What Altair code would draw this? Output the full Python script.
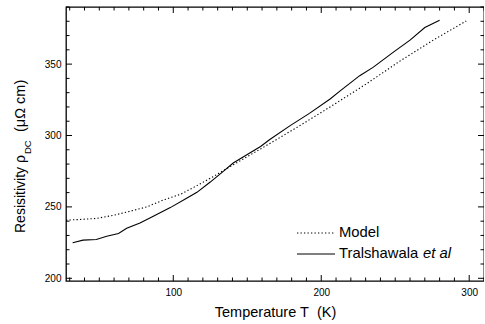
import altair as alt
import pandas as pd

# ---- data ----
model_T = [27.5, 37, 48, 60, 71, 82, 93, 105, 116, 127, 136, 147, 159, 170, 186, 208, 231, 253, 276, 298]
model_rho = [240.7, 241.2, 241.9, 244.2, 247.0, 250.0, 254.7, 258.9, 264.9, 271.2, 276.8, 283.4, 290.6, 297.3,
             307.2, 321.3, 336.5, 352.0, 367.0, 380.2]

tral_T = [32, 39, 48, 55, 63, 68.5, 77.5, 86.5, 98, 109, 116, 125, 134, 140.5, 150, 159, 165, 179, 192, 206,
          213, 226, 235, 249, 260, 270, 280]
tral_rho = [224.9, 226.7, 227.2, 229.5, 231.4, 235.1, 238.8, 243.5, 249.5, 256.0, 260.2, 267.4, 275.1, 280.7,
            286.7, 292.3, 297.0, 306.9, 315.5, 325.6, 331.4, 341.9, 347.7, 358.6, 366.8, 375.6, 380.7]

x_major = [100, 200, 300]
x_minor = [30, 40, 50, 60, 70, 80, 90, 110, 120, 130, 140, 150, 160, 170, 180, 190,
           210, 220, 230, 240, 250, 260, 270, 280, 290, 310]
y_major = [200, 250, 300, 350]
y_minor = [210, 220, 230, 240, 260, 270, 280, 290, 310, 320, 330, 340, 360, 370, 380, 390]

legend_labels = ["Model", "Tralshawala", "et al"]

W, H = 418, 274
FONT = "Liberation Sans"

xs = alt.Scale(domain=[27.5, 310], nice=False, zero=False)
ys = alt.Scale(domain=[198.1, 390], nice=False, zero=False)

df_model = pd.DataFrame({"T": model_T, "rho": model_rho})
df_tral = pd.DataFrame({"T": tral_T, "rho": tral_rho})

x_axis = alt.Axis(values=x_major, ticks=False, tickSize=0, domain=False, grid=False,
                  labelFontSize=10, labelFont=FONT, labelColor="black", labelPadding=6,
                  title="Temperature T\u00a0 (K)", titleFont=FONT, titleFontSize=14.5,
                  titleFontWeight="normal", titleColor="black", titlePadding=8)
y_axis = alt.Axis(values=y_major, ticks=False, tickSize=0, domain=False, grid=False,
                  labelFontSize=10, labelFont=FONT, labelColor="black", labelPadding=5,
                  title="")

X = alt.X("T:Q", scale=xs, axis=x_axis)
Y = alt.Y("rho:Q", scale=ys, axis=y_axis)

model_line = alt.Chart(df_model).mark_line(color="black", strokeWidth=1.1, strokeDash=[1.3, 2.2]).encode(x=X, y=Y)
tral_line = alt.Chart(df_tral).mark_line(color="black", strokeWidth=1.1).encode(x=X, y=Y)


def xticks(vals, length):
    d = pd.DataFrame({"T": vals})
    bottom = alt.Chart(d).mark_rule(color="black", strokeWidth=1).encode(
        x=X, y=alt.value(H), y2=alt.value(H - length))
    top = alt.Chart(d).mark_rule(color="black", strokeWidth=1).encode(
        x=X, y=alt.value(0), y2=alt.value(length))
    return [bottom, top]


def yticks(vals, length):
    d = pd.DataFrame({"rho": vals})
    left = alt.Chart(d).mark_rule(color="black", strokeWidth=1).encode(
        y=Y, x=alt.value(0), x2=alt.value(length))
    right = alt.Chart(d).mark_rule(color="black", strokeWidth=1).encode(
        y=Y, x=alt.value(W), x2=alt.value(W - length))
    return [left, right]


tick_layers = xticks(x_major, 6) + xticks(x_minor, 3.5) + yticks(y_major, 6) + yticks(y_minor, 3.5)

# y-axis title with subscript
ytitle_main = alt.Chart(pd.DataFrame({"t": ["Resisitivity \u03c1"]})).mark_text(
    angle=270, align="left", baseline="alphabetic", font=FONT, fontSize=14, color="black"
).encode(text="t:N", x=alt.value(-41), y=alt.value(226))
ytitle_sub = alt.Chart(pd.DataFrame({"t": ["DC"]})).mark_text(
    angle=270, align="left", baseline="alphabetic", font=FONT, fontSize=9.5, color="black"
).encode(text="t:N", x=alt.value(-35), y=alt.value(147))
ytitle_unit = alt.Chart(pd.DataFrame({"t": ["(\u03bc\u03a9 cm)"]})).mark_text(
    angle=270, align="left", baseline="alphabetic", font=FONT, fontSize=14.5, color="black"
).encode(text="t:N", x=alt.value(-41), y=alt.value(125))

# legend
leg_dot = alt.Chart(pd.DataFrame({"a": [0]})).mark_rule(color="black", strokeWidth=1.1, strokeDash=[1.3, 2.2]).encode(
    x=alt.value(231), x2=alt.value(269), y=alt.value(226))
leg_solid = alt.Chart(pd.DataFrame({"a": [0]})).mark_rule(color="black", strokeWidth=1.1).encode(
    x=alt.value(231), x2=alt.value(269), y=alt.value(247))
leg_t1 = alt.Chart(pd.DataFrame({"t": [legend_labels[0]]})).mark_text(
    align="left", baseline="middle", font=FONT, fontSize=14.8, color="black"
).encode(text="t:N", x=alt.value(273), y=alt.value(226))
leg_t2 = alt.Chart(pd.DataFrame({"t": [legend_labels[1]]})).mark_text(
    align="left", baseline="middle", font=FONT, fontSize=14.8, color="black"
).encode(text="t:N", x=alt.value(273), y=alt.value(247))
leg_t3 = alt.Chart(pd.DataFrame({"t": [legend_labels[2]]})).mark_text(
    align="left", baseline="middle", font=FONT, fontSize=14.8, fontStyle="italic", color="black"
).encode(text="t:N", x=alt.value(357), y=alt.value(247))

chart = alt.layer(
    model_line, tral_line, *tick_layers,
    ytitle_main, ytitle_sub, ytitle_unit,
    leg_dot, leg_solid, leg_t1, leg_t2, leg_t3,
).properties(
    width=W, height=H,
    autosize=alt.AutoSizeParams(type="none"),
    padding={"left": 66, "top": 7, "right": 0, "bottom": 43},
).configure_view(
    stroke="black", strokeWidth=1.3
)

chart.save("out.html", embed_options={"renderer": "svg", "actions": False})
